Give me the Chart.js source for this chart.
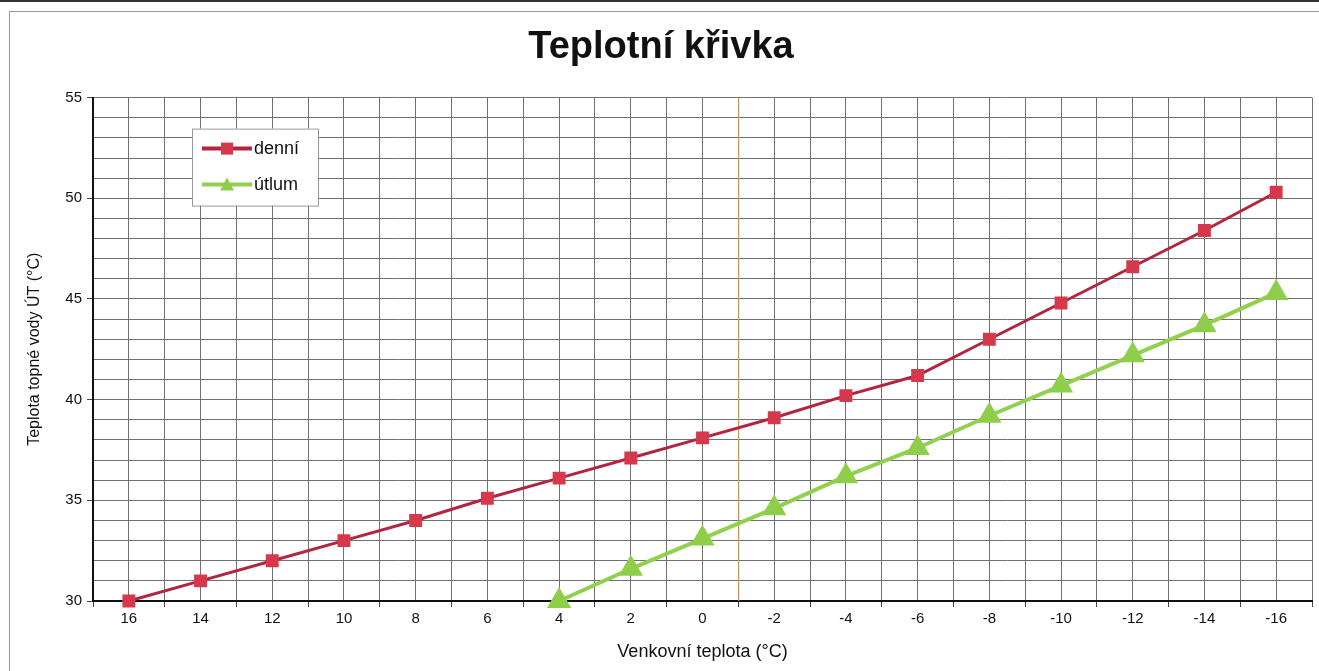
<!DOCTYPE html>
<html lang="cs">
<head>
<meta charset="utf-8">
<title>Teplotní křivka</title>
<script src="https://cdn.jsdelivr.net/npm/chart.js@4.4.1/dist/chart.umd.min.js"></script>
<style>
    html, body { margin: 0; padding: 0; background: #fff; overflow: hidden; }
    .page { position: relative; width: 1319px; height: 671px; overflow: hidden; }
    .topline { position: absolute; left: 0; top: 0; width: 1319px; height: 2px; background: #333; }
    .frame { position: absolute; left: 9px; top: 11px; width: 1320px; height: 680px; border: 1px solid #999; }
    .wrap { position: absolute; left: -30px; top: 0; width: 1356px; height: 671px; }
</style>
</head>
<body>
<div class="page">
    <div class="topline"></div>
    <div class="frame"></div>
    <div class="wrap"><canvas id="chart"></canvas></div>
</div>
<script>
// outside temperature (°C), x axis runs from warm to cold
const outsideTemps = [16, 14, 12, 10, 8, 6, 4, 2, 0, -2, -4, -6, -8, -10, -12, -14, -16];
const denniValues = [30, 31, 32, 33, 34, 35.1, 36.1, 37.1, 38.1, 39.1, 40.2, 41.2, 43, 44.8, 46.6, 48.4, 50.3];
const utlumTemps = [4, 2, 0, -2, -4, -6, -8, -10, -12, -14, -16];
const utlumValues = [30, 31.6, 33.1, 34.6, 36.2, 37.6, 39.2, 40.7, 42.2, 43.7, 45.3];
const markerTemp = -1;

const xMin = -17, xMax = 17;
const yMin = 30, yMax = 55;

const denniPoints = outsideTemps.map((t, i) => ({ x: t, y: denniValues[i] }));
const utlumPoints = utlumTemps.map((t, i) => ({ x: t, y: utlumValues[i] }));

const FONT = 'Arial, "Liberation Sans", sans-serif';

// orange vertical marker line + legend box drawn inside the plot area
const extrasPlugin = {
    id: 'extras',
    beforeDatasetsDraw(chart) {
        const { ctx, chartArea, scales } = chart;
        const px = scales.x.getPixelForValue(markerTemp);
        ctx.save();
        ctx.strokeStyle = '#e8b060';
        ctx.lineWidth = 1;
        ctx.beginPath();
        ctx.moveTo(px + 0.5, chartArea.top);
        ctx.lineTo(px + 0.5, chartArea.bottom);
        ctx.stroke();
        ctx.restore();
    },
    afterDraw(chart) {
        const { ctx, chartArea } = chart;
        const bx = chartArea.left + 99, by = chartArea.top + 31, bw = 126, bh = 77;
        ctx.save();
        ctx.fillStyle = '#fff';
        ctx.fillRect(bx, by, bw, bh);
        ctx.strokeStyle = '#999';
        ctx.lineWidth = 1;
        ctx.strokeRect(bx + 0.5, by + 0.5, bw, bh);
        ctx.font = '18px ' + FONT;
        ctx.textBaseline = 'middle';
        chart.data.datasets.forEach((ds, i) => {
            const cy = by + 20 + i * 36;
            const x0 = bx + 10, x1 = bx + 60;
            ctx.strokeStyle = ds.borderColor;
            ctx.lineWidth = 4;
            ctx.beginPath();
            ctx.moveTo(x0, cy);
            ctx.lineTo(x1, cy);
            ctx.stroke();
            ctx.fillStyle = ds.pointBackgroundColor;
            const cx = (x0 + x1) / 2;
            if (ds.pointStyle === 'rect') {
                ctx.fillRect(cx - 6, cy - 6, 12, 12);
            } else {
                ctx.beginPath();
                ctx.moveTo(cx, cy - 7);
                ctx.lineTo(cx + 7, cy + 6);
                ctx.lineTo(cx - 7, cy + 6);
                ctx.closePath();
                ctx.fill();
            }
            ctx.fillStyle = '#111';
            ctx.fillText(ds.label, x1 + 2, cy);
        });
        ctx.restore();
    }
};

new Chart(document.getElementById('chart'), {
    type: 'line',
    data: {
        datasets: [
            {
                label: 'denní',
                data: denniPoints,
                borderColor: '#b3253f',
                backgroundColor: '#d6394b',
                pointBackgroundColor: '#d6394b',
                pointBorderColor: '#d6394b',
                borderWidth: 3,
                pointStyle: 'rect',
                pointRadius: 7,
                pointHoverRadius: 7,
                tension: 0
            },
            {
                label: 'útlum',
                data: utlumPoints,
                borderColor: '#92d050',
                backgroundColor: '#8fce4a',
                pointBackgroundColor: '#8fce4a',
                pointBorderColor: '#8fce4a',
                borderWidth: 4,
                pointStyle: 'triangle',
                pointRadius: 10,
                pointHoverRadius: 10,
                tension: 0
            }
        ]
    },
    options: {
        responsive: true,
        maintainAspectRatio: false,
        animation: false,
        clip: false,
        layout: { padding: { left: 26, right: 0, bottom: 8, top: 0 } },
        plugins: {
            legend: { display: false },
            tooltip: { enabled: false },
            title: {
                display: true,
                text: 'Teplotní křivka',
                color: '#111',
                font: { family: FONT, size: 38, weight: 'bold' },
                padding: { top: 25, bottom: 27 }
            }
        },
        scales: {
            x: {
                type: 'linear',
                reverse: true,
                min: xMin,
                max: xMax,
                border: { display: true, color: '#111', width: 2 },
                grid: {
                    color: '#707070',
                    lineWidth: 1,
                    drawTicks: true,
                    tickLength: 6,
                    tickColor: ctx => (Math.abs(ctx.tick.value) % 2 === 1 ? '#444' : 'rgba(0,0,0,0)')
                },
                ticks: {
                    stepSize: 1,
                    autoSkip: false,
                    maxRotation: 0,
                    color: '#111',
                    font: { family: FONT, size: 15 },
                    padding: 3,
                    callback: v => (Math.abs(v) % 2 === 0 && Math.abs(v) < 17 ? String(v) : '')
                },
                title: {
                    display: true,
                    text: 'Venkovní teplota (°C)',
                    color: '#111',
                    font: { family: FONT, size: 18 },
                    padding: { top: 0, bottom: 0 }
                },
                afterFit: s => { s.height = 62; }
            },
            y: {
                min: yMin,
                max: yMax,
                border: { display: true, color: '#111', width: 2 },
                grid: {
                    color: '#707070',
                    lineWidth: 1,
                    drawTicks: true,
                    tickLength: 6,
                    tickColor: ctx => (ctx.tick.value % 5 === 0 ? '#444' : 'rgba(0,0,0,0)')
                },
                ticks: {
                    stepSize: 1,
                    autoSkip: false,
                    color: '#111',
                    font: { family: FONT, size: 15 },
                    padding: 5,
                    callback: v => (v % 5 === 0 ? String(v) : '')
                },
                title: {
                    display: true,
                    text: 'Teplota topné vody ÚT (°C)',
                    color: '#111',
                    font: { family: FONT, size: 16 },
                    padding: { top: 29, bottom: 10 }
                },
                afterFit: s => { s.width = 97; }
            }
        }
    },
    plugins: [extrasPlugin]
});
</script>
</body>
</html>
